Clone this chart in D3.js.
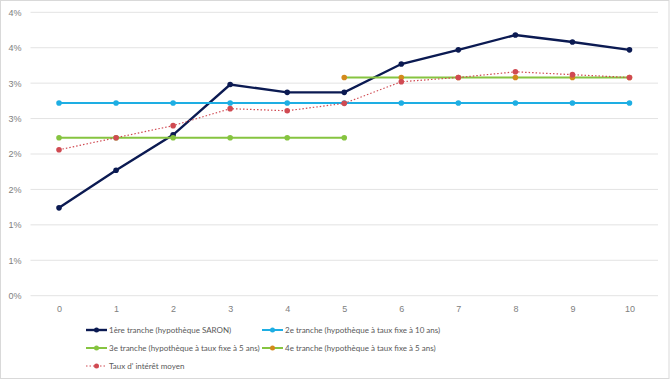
<!DOCTYPE html>
<html><head><meta charset="utf-8">
<script src="https://cdn.jsdelivr.net/npm/d3@7"></script>
<style>body{margin:0;background:#fff;}svg{display:block;font-family:Lato,"Open Sans",sans-serif;}</style>
</head><body><svg id="c" width="670" height="380"></svg>
<script>
const years = [0,1,2,3,4,5,6,7,8,9,10];
const yTicks = [0,0.5,1,1.5,2,2.5,3,3.5,4];
const yTickLabels = ["0%","1%","1%","2%","2%","3%","3%","4%","4%"];
const saron = [1.24,1.77,2.27,2.98,2.87,2.87,3.27,3.47,3.68,3.58,3.47];
const fixed10 = [2.72,2.72,2.72,2.72,2.72,2.72,2.72,2.72,2.72,2.72,2.72];
const fixed5a = [2.23,2.23,2.23,2.23,2.23,2.23,null,null,null,null,null];
const fixed5b = [null,null,null,null,null,3.08,3.08,3.08,3.08,3.08,3.08];
const average = [2.06,2.23,2.40,2.64,2.61,2.715,3.02,3.08,3.16,3.12,3.08];
const seriesNames = ["1ère tranche (hypothèque SARON)","2e tranche (hypothèque à taux fixe à 10 ans)","3e tranche (hypothèque à taux fixe à 5 ans)","4e tranche (hypothèque à taux fixe à 5 ans)","Taux d' intérêt moyen"];

const series = [
  {name:seriesNames[0], values:saron, line:"#0b1a52", marker:"#0b1a52", w:2.4, dash:null},
  {name:seriesNames[1], values:fixed10, line:"#1eaee3", marker:"#1eaee3", w:2, dash:null},
  {name:seriesNames[2], values:fixed5a, line:"#86c440", marker:"#86c440", w:2, dash:null},
  {name:seriesNames[3], values:fixed5b, line:"#86c440", marker:"#d38a1c", w:2, dash:null},
  {name:seriesNames[4], values:average, line:"#d04a52", marker:"#d04a52", w:1.2, dash:"1.5,2"}
];

const svg = d3.select("#c");
svg.append("rect").attr("x",0.5).attr("y",0.5).attr("width",668.5).attr("height",378).attr("fill","#fff").attr("stroke","#d9d9d9");

const x = d3.scalePoint().domain(years).range([30.5,658]).padding(0.5);
const y = d3.scaleLinear().domain([0,4]).range([295.7,12.3]);

svg.append("g").selectAll("line").data(yTicks).join("line")
  .attr("x1",30.5).attr("x2",658).attr("y1",d=>y(d)).attr("y2",d=>y(d))
  .attr("stroke","#e3e3e3").attr("stroke-width",1);

const yAxis = svg.append("g").attr("transform","translate(30.5,0)")
  .call(d3.axisLeft(y).tickValues(yTicks).tickFormat((d,i)=>yTickLabels[i]).tickSize(0).tickPadding(9));
yAxis.select(".domain").remove();
yAxis.selectAll("text").attr("fill","#808080").attr("font-size","9px");

const xAxis = svg.append("g").attr("transform","translate(0,295.7)")
  .call(d3.axisBottom(x).tickSize(0).tickPadding(10));
xAxis.select(".domain").remove();
xAxis.selectAll("text").attr("fill","#808080").attr("font-size","9px");

const line = d3.line().defined(d=>d.v!=null).x(d=>x(d.x)).y(d=>y(d.v));
series.forEach(s=>{
  const pts = years.map((yr,i)=>({x:yr,v:s.values[i]}));
  svg.append("path").datum(pts).attr("d",line).attr("fill","none")
    .attr("stroke",s.line).attr("stroke-width",s.w).attr("stroke-dasharray",s.dash);
  svg.append("g").selectAll("circle").data(pts.filter(p=>p.v!=null)).join("circle")
    .attr("cx",p=>x(p.x)).attr("cy",p=>y(p.v)).attr("r",2.8).attr("fill",s.marker);
});

const legPos = [[86,330],[262,330],[86,348],[262,348],[86,366]];
series.forEach((s,i)=>{
  const [lx,ly] = legPos[i];
  const g = svg.append("g").attr("transform",`translate(${lx},${ly})`);
  g.append("line").attr("x1",0).attr("x2",21).attr("y1",0).attr("y2",0)
    .attr("stroke",s.line).attr("stroke-width",s.w).attr("stroke-dasharray",s.dash);
  g.append("circle").attr("cx",10.5).attr("cy",0).attr("r",2.5).attr("fill",s.marker);
  g.append("text").attr("x",23).attr("y",0).attr("dy","0.35em").attr("font-size","8px")
    .attr("fill","#595959").text(s.name);
});
</script></body></html>
